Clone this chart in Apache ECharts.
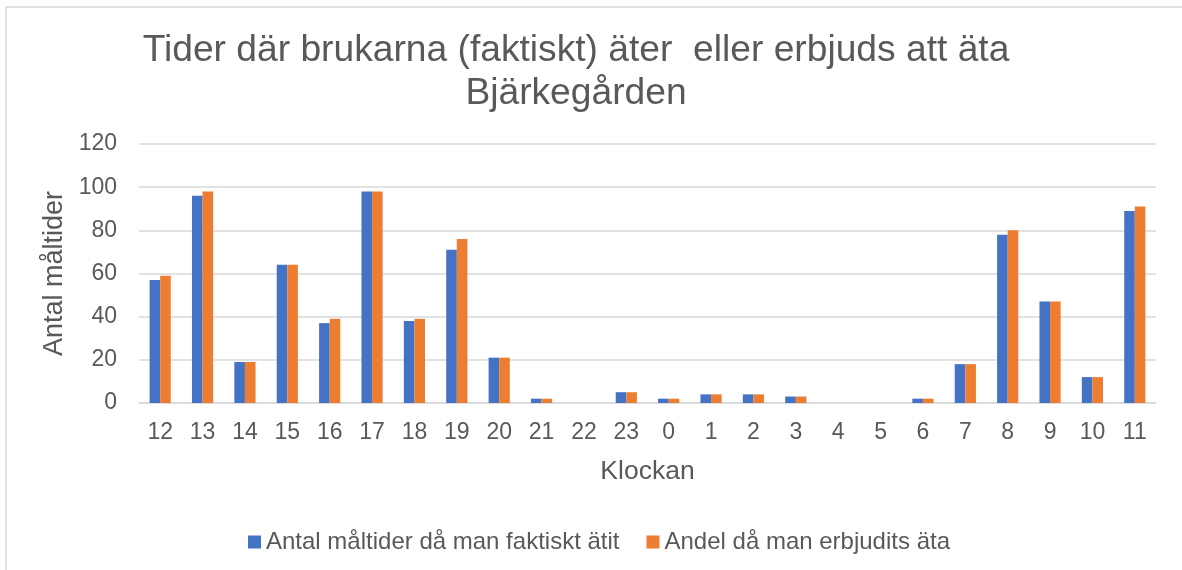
<!DOCTYPE html>
<html>
<head>
<meta charset="utf-8">
<script src="https://cdn.jsdelivr.net/npm/echarts@6/dist/echarts.min.js"></script>
<style>
  html, body { margin: 0; padding: 0; background: #fff; }
  #chart { width: 1182px; height: 570px; }
</style>
</head>
<body>
<div id="chart"></div>
<script>
  // klockslag (kategorier)
  var hours = ['12','13','14','15','16','17','18','19','20','21','22','23','0','1','2','3','4','5','6','7','8','9','10','11'];
  // serie 1 - faktiskt ätit
  var actualMeals = [57, 96, 19, 64, 37, 98, 38, 71, 21, 2, 0, 5, 2, 4, 4, 3, 0, 0, 2, 18, 78, 47, 12, 89];
  // serie 2 - erbjudits äta
  var offeredMeals = [59, 98, 19, 64, 39, 98, 39, 76, 21, 2, 0, 5, 2, 4, 4, 3, 0, 0, 2, 18, 80, 47, 12, 91];
  var seriesNames = ['Antal måltider då man faktiskt ätit', 'Andel då man erbjudits äta'];
  var yTicks = [0, 20, 40, 60, 80, 100, 120];
  var chartTitle = 'Tider där brukarna (faktiskt) äter  eller erbjuds att äta\nBjärkegården';

  var textColor = '#595959';
  var font = 'Liberation Sans, Arial, sans-serif';

  var myChart = echarts.init(document.getElementById('chart'));

  myChart.setOption({
    animation: false,
    color: ['#4472C4', '#ED7D31'],
    textStyle: { fontFamily: font },
    graphic: [{
      type: 'rect',
      shape: { x: 6, y: 7, width: 1300, height: 700 },
      style: { fill: 'none', stroke: '#D9D9D9', lineWidth: 1.5 },
      silent: true
    }, {
      // titel, lite vänster om mitten som i originalet
      type: 'text',
      x: 576,
      y: 29,
      silent: true,
      style: {
        text: chartTitle,
        align: 'center',
        verticalAlign: 'top',
        fill: textColor,
        fontSize: 37.2,
        fontFamily: font,
        lineHeight: 43
      }
    }],
    grid: {
      left: 139,
      right: 26,
      top: 144,
      bottom: 167
    },
    legend: {
      bottom: 11,
      left: 243,
      itemWidth: 13,
      itemHeight: 13,
      itemGap: 27,
      icon: 'rect',
      textStyle: { color: textColor, fontSize: 24, fontFamily: font },
      data: seriesNames
    },
    xAxis: {
      type: 'category',
      data: hours,
      name: 'Klockan',
      nameLocation: 'middle',
      nameGap: 55,
      nameTextStyle: { color: textColor, fontSize: 26.5, fontFamily: font },
      axisLine: { lineStyle: { color: '#D9D9D9', width: 1.5 } },
      axisTick: { show: false },
      axisLabel: { color: textColor, fontSize: 23, margin: 18, interval: 0 }
    },
    yAxis: {
      type: 'value',
      min: yTicks[0],
      max: yTicks[yTicks.length - 1],
      interval: 20,
      name: 'Antal måltider',
      nameLocation: 'middle',
      nameGap: 70,
      nameTextStyle: { color: textColor, fontSize: 27, fontFamily: font },
      axisLine: { show: false },
      axisTick: { show: false },
      axisLabel: { color: textColor, fontSize: 23, margin: 22 },
      splitLine: { lineStyle: { color: '#D9D9D9', width: 1.5 } }
    },
    series: [{
      name: seriesNames[0],
      type: 'bar',
      data: actualMeals,
      barGap: '0%',
      barCategoryGap: '50%'
    }, {
      name: seriesNames[1],
      type: 'bar',
      data: offeredMeals,
      barGap: '0%',
      barCategoryGap: '50%'
    }]
  });
</script>
</body>
</html>
